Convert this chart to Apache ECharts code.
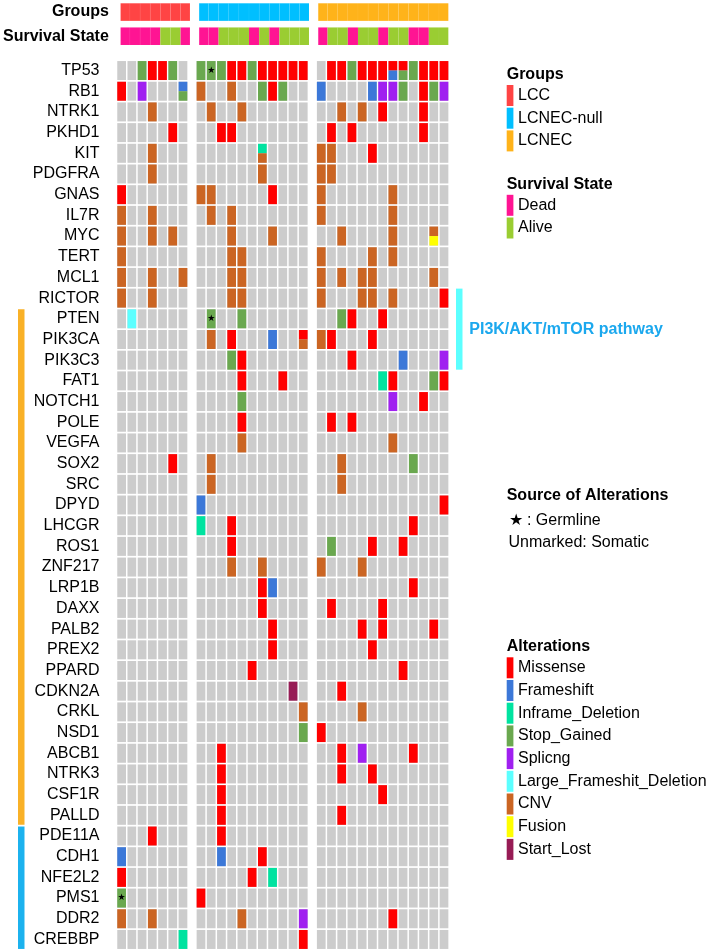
<!DOCTYPE html>
<html><head><meta charset="utf-8">
<script src="https://cdn.jsdelivr.net/npm/echarts@6/dist/echarts.min.js"></script>
<style>html,body{margin:0;padding:0;background:#fff}#c{width:709px;height:950px}</style>
</head><body><div id="c"></div>
<script>
// ---------------- DATA ----------------
const GENES = ['TP53','RB1','NTRK1','PKHD1','KIT','PDGFRA','GNAS','IL7R','MYC','TERT','MCL1','RICTOR',
  'PTEN','PIK3CA','PIK3C3','FAT1','NOTCH1','POLE','VEGFA','SOX2','SRC','DPYD','LHCGR','ROS1','ZNF217',
  'LRP1B','DAXX','PALB2','PREX2','PPARD','CDKN2A','CRKL','NSD1','ABCB1','NTRK3','CSF1R','PALLD',
  'PDE11A','CDH1','NFE2L2','PMS1','DDR2','CREBBP'];
const GROUP_NAMES = ['LCC','LCNEC-null','LCNEC'];
const GROUP_SIZES = [7, 11, 13];
const SURVIVAL_NAMES = ['Dead','Alive'];
const SURVIVAL = ['DDDDAAD', 'DDAAADADAAA', 'DAADAADAADDAA']; // D = Dead, A = Alive
const ALT_CODES = ['M','F','I','S','P','L','C','U','T'];
const ALT_NAMES = ['Missense','Frameshift','Inframe_Deletion','Stop_Gained','Splicng',
  'Large_Frameshit_Deletion','CNV','Fusion','Start_Lost'];
// one string per gene: tokens per sample, groups separated by '|'
// '.' none, 'X+Y' two alterations (top/bottom), '*' germline
const ROWS = [
 '. . S M M S . | S S* S M M S M M M M M | . M M S M M M M+F M+S S M M M',
 'M . P . . . F+S | C . . C . . S M S . . | F . . . . F P P S . M S P',
 '. . . C . . . | . C . . C . . . . . . | . . C . C . M . . . M . .',
 '. . . . . M . | . . M M . . . . . . . | . M . M . . . . . . M . .',
 '. . . C . . . | . . . . . . I+C . . . . | C C . . . M . . . . . . .',
 '. . . C . . . | . . . . . . C . . . . | C C . . . . . . . . . . .',
 'M . . . . . . | C C . . . . . M . . . | C . . . . . . C . . . . .',
 'C . . C . . . | . C . C . . . . . . . | C . . . . . . C . . . . .',
 'C . . C . C . | . . . C . . . C . . . | . . C . . . . C . . . C+U .',
 'C . . . . . . | . . . C C . . . . . . | C . . . . C . C . . . . .',
 'C . . C . . C | . . . C C . . . . . . | C . C . C C . . . . . C .',
 'C . . C . . . | . . . C C . . . . . . | C . . . C C . C . . . . M',
 '. L . . . . . | . S* . . S . . . . . . | . . S M . . M . . . . . .',
 '. . . . . . . | . C . M . . . F . . M+C | C M . . . M . . . . . . .',
 '. . . . . . . | . . . S M . . . . . . | . . . M . . . . F . . . P',
 '. . . . . . . | . . . . M . . . M . . | . . . . . . I M . . . S M',
 '. . . . . . . | . . . . S . . . . . . | . . . . . . . P . . M . .',
 '. . . . . . . | . . . . M . . . . . . | . M . M . . . . . . . . .',
 '. . . . . . . | . . . . C . . . . . . | . . . . . . . C . . . . .',
 '. . . . . M . | . C . . . . . . . . . | . . C . . . . . . S . . .',
 '. . . . . . . | . C . . . . . . . . . | . . C . . . . . . . . . .',
 '. . . . . . . | F . . . . . . . . . . | . . . . . . . . . . . . M',
 '. . . . . . . | I . . M . . . . . . . | . . . . . . . . . M . . .',
 '. . . . . . . | . . . M . . . . . . . | . S . . . M . . M . . . .',
 '. . . . . . . | . . . C . . C . . . . | C . . . C . . . . . . . .',
 '. . . . . . . | . . . . . . M F . . . | . . . . . . . . . M . . .',
 '. . . . . . . | . . . . . . M . . . . | . M . . . . M . . . . . .',
 '. . . . . . . | . . . . . . . M . . . | . . . . M . M . . . . M .',
 '. . . . . . . | . . . . . . . M . . . | . . . . . M . . . . . . .',
 '. . . . . . . | . . . . . M . . . . . | . . . . . . . . M . . . .',
 '. . . . . . . | . . . . . . . . . T . | . . M . . . . . . . . . .',
 '. . . . . . . | . . . . . . . . . . C | . . . . C . . . . . . . .',
 '. . . . . . . | . . . . . . . . . . S | M . . . . . . . . . . . .',
 '. . . . . . . | . . M . . . . . . . . | . . M . P . . . . M . . .',
 '. . . . . . . | . . M . . . . . . . . | . . M . . M . . . . . . .',
 '. . . . . . . | . . M . . . . . . . . | . . . . . . M . . . . . .',
 '. . . . . . . | . . M . . . . . . . . | . . M . . . . . . . . . .',
 '. . . M . . . | . . M . . . . . . . . | . . . . . . . . . . . . .',
 'F . . . . . . | . . F . . . M . . . . | . . . . . . . . . . . . .',
 'M . . . . . . | . . . . . M . I . . . | . . . . . . . . . . . . .',
 'S* . . . . . . | M . . . . . . . . . . | . . . . . . . . . . . . .',
 'C . . C . . . | . . . . C . . . . . P | . . . . . . . M . . . . .',
 '. . . . . . I | . . . . . . . . . . M | . . . . . . . . . . . . .'
];
const PATHWAY_BARS = [ // [first gene, last gene, label]
  ['PTEN','PALLD',''],
  ['PDE11A','CREBBP',''],
  ['RICTOR','PIK3C3','PI3K/AKT/mTOR pathway']
];

// ---------------- STYLE ----------------
const FONT = 'Liberation Sans, Arial, Helvetica, sans-serif';
const ALT_COLORS = ['#FF0000','#3C78D8','#00E3A0','#6AA84F','#A020F0','#5CFFFF','#CB6523','#FFFF00','#971C55'];
const GROUP_COLORS = ['#FF4444','#00BFFF','#FFB31A'];
const SURV_COLORS = ['#FF1493','#9ACD32'];
const BAR_COLORS = ['#F9B127','#1CB2EE','#5CFFFF'];
const GRAY = '#CCCCCC';
const GROUP_GAP = 0.76;
const GX = 1.5, GY = 1.7;

// ---------------- BUILD ----------------
const cols = [];
let gi = 0;
GROUP_SIZES.forEach((n, g) => {
  for (let k = 0; k < n; k++) {
    cols.push({g: g, k: k, x: gi + g * GROUP_GAP, first: k === 0, last: k === n - 1,
      surv: SURVIVAL[g][k] === 'D' ? 0 : 1});
    gi++;
  }
});
const XMAX = gi + (GROUP_SIZES.length - 1) * GROUP_GAP;

const bgData = [];
const altData = [];
ROWS.forEach((row, r) => {
  const tokens = row.split('|').map(s => s.trim().split(/\s+/)).flat();
  tokens.forEach((tok, c) => {
    bgData.push([cols[c].x, r]);
    if (tok === '.') return;
    const germ = tok.indexOf('*') >= 0 ? 1 : 0;
    const parts = tok.replace('*', '').split('+');
    const t1 = ALT_CODES.indexOf(parts[0]);
    const t2 = parts.length > 1 ? ALT_CODES.indexOf(parts[1]) : -1;
    altData.push([cols[c].x, r, t1, t2, germ]);
  });
});
const headerData = [];
cols.forEach(c => {
  headerData.push([c.x, 0, 0, c.g, c.first ? 1 : 0, c.last ? 1 : 0]);
  headerData.push([c.x, 1, 1, c.surv, c.first ? 1 : 0, c.last ? 1 : 0]);
});
const barData = PATHWAY_BARS.map((b, i) => [0, GENES.indexOf(b[0]), GENES.indexOf(b[1]), i]);

function cellBox(api, x, r) {
  const p = api.coord([x, r]);
  const s = api.size([1, 1], [x, r]);
  return {x: p[0] + GX / 2, y: p[1] - s[1] / 2 + GY / 2, width: s[0] - GX, height: s[1] - GY};
}

const chart = echarts.init(document.getElementById('c'), null, {renderer: 'canvas'});
const GRID_LEFT = 116.5, GRID_W = 332.6;

// legend graphics
const graphics = [];
const LX = 506.7, LW = 6.7, LT = 518, LP = 22.7, LH = 21;
function legendBlock(title, titleY, names, colors) {
  graphics.push({type: 'text', left: LX, top: titleY - 9,
    style: {text: title, font: 'bold 16px ' + FONT, fill: '#000'}});
  names.forEach((n, i) => {
    const y0 = titleY + 9.3 + i * LP;
    graphics.push({type: 'rect', shape: {x: LX, y: y0, width: LW, height: LH}, style: {fill: colors[i]}});
    graphics.push({type: 'text', x: LT, y: y0 + LH / 2,
      style: {text: n, font: '16px ' + FONT, fill: '#000', verticalAlign: 'middle'}});
  });
}
legendBlock('Groups', 75.7, GROUP_NAMES, GROUP_COLORS);
legendBlock('Survival State', 185.5, SURVIVAL_NAMES, SURV_COLORS);
legendBlock('Alterations', 648, ALT_NAMES, ALT_COLORS);
graphics.push({type: 'text', left: LX, top: 497 - 9,
  style: {text: 'Source of Alterations', font: 'bold 16px ' + FONT, fill: '#000'}});
graphics.push({type: 'text', x: 508.5, y: 521,
  style: {text: '\u2605 : Germline', font: '16px ' + FONT, fill: '#000', verticalAlign: 'middle'}});
graphics.push({type: 'text', x: 508.5, y: 543,
  style: {text: 'Unmarked: Somatic', font: '16px ' + FONT, fill: '#000', verticalAlign: 'middle'}});

chart.setOption({
  animation: false,
  backgroundColor: '#fff',
  grid: [
    {left: GRID_LEFT, width: GRID_W, top: 60.2, height: 889.6},
    {left: GRID_LEFT, width: GRID_W, top: -3.4, height: 51.7}
  ],
  xAxis: [
    {type: 'value', gridIndex: 0, min: 0, max: XMAX, show: false},
    {type: 'value', gridIndex: 1, min: 0, max: XMAX, show: false}
  ],
  yAxis: [
    {type: 'category', gridIndex: 0, data: GENES, inverse: true,
      axisLine: {show: false}, axisTick: {show: false}, splitLine: {show: false},
      axisLabel: {interval: 0, fontSize: 16, fontFamily: FONT, color: '#000', margin: 17}},
    {type: 'category', gridIndex: 1, data: ['Groups', 'Survival State'], inverse: true,
      axisLine: {show: false}, axisTick: {show: false}, splitLine: {show: false},
      axisLabel: {interval: 0, fontSize: 16, fontFamily: FONT, fontWeight: 'bold', color: '#000', margin: 11}}
  ],
  graphic: graphics,
  series: [
    {type: 'custom', xAxisIndex: 0, yAxisIndex: 0, data: bgData, encode: {x: 0, y: 1},
      renderItem: (params, api) => {
        const b = cellBox(api, api.value(0), api.value(1));
        return {type: 'rect', shape: b, style: {fill: GRAY}};
      }},
    {type: 'custom', xAxisIndex: 0, yAxisIndex: 0, data: altData, encode: {x: 0, y: 1}, z: 3,
      renderItem: (params, api) => {
        const b = cellBox(api, api.value(0), api.value(1));
        const t1 = api.value(2), t2 = api.value(3), germ = api.value(4);
        const ch = [];
        if (t2 < 0) {
          ch.push({type: 'rect', shape: b, style: {fill: ALT_COLORS[t1]}});
        } else {
          const h2 = b.height / 2;
          ch.push({type: 'rect', shape: {x: b.x, y: b.y, width: b.width, height: h2}, style: {fill: ALT_COLORS[t1]}});
          ch.push({type: 'rect', shape: {x: b.x, y: b.y + h2, width: b.width, height: b.height - h2}, style: {fill: ALT_COLORS[t2]}});
        }
        if (germ) {
          ch.push({type: 'text', x: b.x + b.width / 2, y: b.y + b.height / 2,
            style: {text: '\u2605', font: '9px DejaVu Sans', fill: '#000', align: 'center', verticalAlign: 'middle'}});
        }
        return {type: 'group', children: ch};
      }},
    {type: 'custom', xAxisIndex: 1, yAxisIndex: 1, data: headerData, encode: {x: 0, y: 1},
      renderItem: (params, api) => {
        const x = api.value(0), r = api.value(1), kind = api.value(2), ci = api.value(3);
        const p = api.coord([x, r]);
        const s = api.size([1, 1], [x, r]);
        const h = 17.6;
        let x0 = p[0], x1 = p[0] + s[0];
        if (api.value(4)) x0 += GX / 2;
        if (api.value(5)) x1 -= GX / 2;
        const color = kind === 0 ? GROUP_COLORS[ci] : SURV_COLORS[ci];
        return {type: 'rect', shape: {x: x0, y: p[1] - h / 2, width: x1 - x0, height: h},
          style: {fill: color, stroke: 'rgba(255,255,255,0.08)', lineWidth: 0.5}};
      }},
    {type: 'custom', xAxisIndex: 0, yAxisIndex: 0, data: barData, encode: {x: 0, y: 1}, clip: false,
      renderItem: (params, api) => {
        const i = api.value(3);
        const s = api.size([1, 1], [0, api.value(1)]);
        const y0 = api.coord([0, api.value(1)])[1] - s[1] / 2 + GY / 2;
        const y1 = api.coord([0, api.value(2)])[1] + s[1] / 2 - GY / 2;
        const label = PATHWAY_BARS[i][2];
        const bx = label ? 456 : 18;
        const ch = [{type: 'rect', shape: {x: bx, y: y0, width: 6.5, height: y1 - y0}, style: {fill: BAR_COLORS[i]}}];
        if (label) {
          ch.push({type: 'text', x: 469.3, y: (y0 + y1) / 2,
            style: {text: label, font: 'bold 16px ' + FONT, fill: '#1BA8EE', verticalAlign: 'middle'}});
        }
        return {type: 'group', children: ch};
      }}
  ]
});
</script></body></html>
